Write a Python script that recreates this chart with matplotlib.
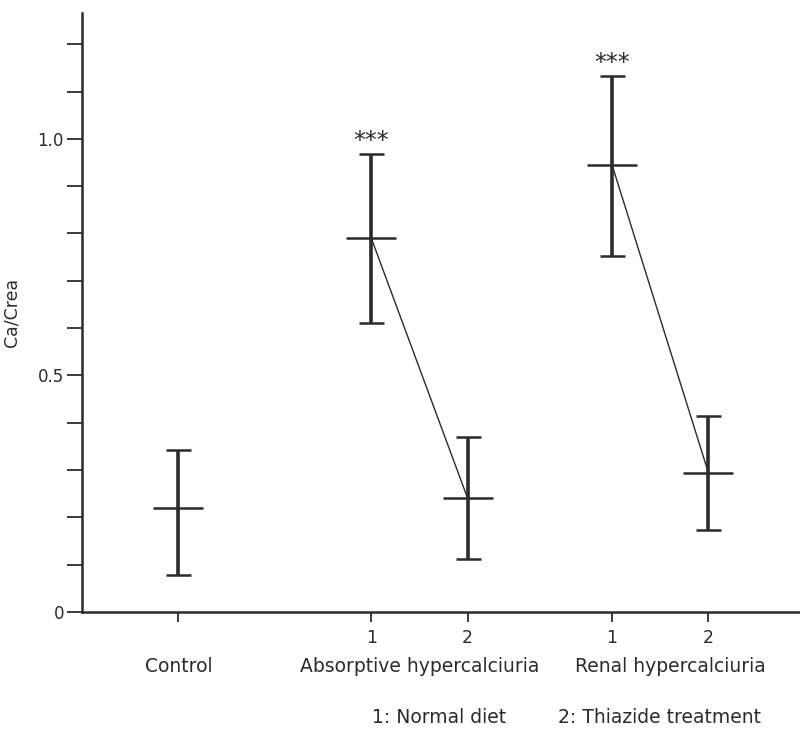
import numpy as np
import matplotlib
matplotlib.use('Agg')
import matplotlib.pyplot as plt

# group positions and values
xpos = [0, 2, 3, 4.5, 5.5]
tick_text = ['', '1', '2', '1', '2']
means = [0.220, 0.791, 0.241, 0.945, 0.294]
upper = [0.342, 0.968, 0.370, 1.133, 0.414]
lower = [0.078, 0.611, 0.112, 0.753, 0.173]
signif = ['', '***', '', '***', '']
groups = ['Control', 'Absorptive hypercalciuria', 'Renal hypercalciuria']
group_x = [0, 2.5, 5.1]
notes = ['1: Normal diet', '2: Thiazide treatment']

col = '#2b2b2b'
plt.rcParams['font.family'] = 'DejaVu Sans'

fig = plt.figure(figsize=(8, 7.36), dpi=100)
ax = fig.add_axes([0.1025, 0.1685, 0.8975, 0.8138])

m = np.array(means)
err = np.vstack([m - np.array(lower), np.array(upper) - m])

# lines joining diet -> thiazide
ax.plot(xpos[1:3], means[1:3], color=col, lw=1.0)
ax.plot(xpos[3:5], means[3:5], color=col, lw=1.0)

ax.errorbar(xpos, means, yerr=err, fmt='_', color=col, ecolor=col,
            elinewidth=2.6, capsize=9, capthick=1.8,
            markersize=36, markeredgewidth=1.8)

for x, u, s in zip(xpos, upper, signif):
    if s:
        ax.annotate(s, (x, u), xytext=(0, 1), textcoords='offset points',
                    ha='center', va='bottom', fontsize=17, color=col)

ax.set_xlim(-1.0, 6.45)
ax.set_ylim(0, 1.266)

ax.set_yticks(np.arange(0, 1.21, 0.1), minor=True)
ax.set_yticks([0, 0.5, 1.0])
ax.set_yticklabels(['0', '0.5', '1.0'])
ax.set_xticks(xpos)
ax.set_xticklabels(tick_text)

for sp in ['top', 'right']:
    ax.spines[sp].set_visible(False)
for sp in ['left', 'bottom']:
    ax.spines[sp].set_linewidth(1.8)
    ax.spines[sp].set_color(col)

ax.tick_params(axis='y', which='both', direction='out', length=11, width=1.3,
               colors=col, labelsize=12, pad=2)
ax.tick_params(axis='x', direction='out', length=7, width=1.3,
               colors=col, labelsize=12.5, pad=5)

ax.set_ylabel('Ca/Crea', fontsize=12.5, color=col, labelpad=12)

for g, gx in zip(groups, group_x):
    ax.annotate(g, (gx, 0), xytext=(0, -39), textcoords='offset points',
                ha='center', va='center', fontsize=13.5, color=col,
                annotation_clip=False)

fig.text(0.465, 0.025, notes[0], ha='left', va='center', fontsize=13.5, color=col)
fig.text(0.697, 0.025, notes[1], ha='left', va='center', fontsize=13.5, color=col)

fig.savefig('out.png', dpi=100)
